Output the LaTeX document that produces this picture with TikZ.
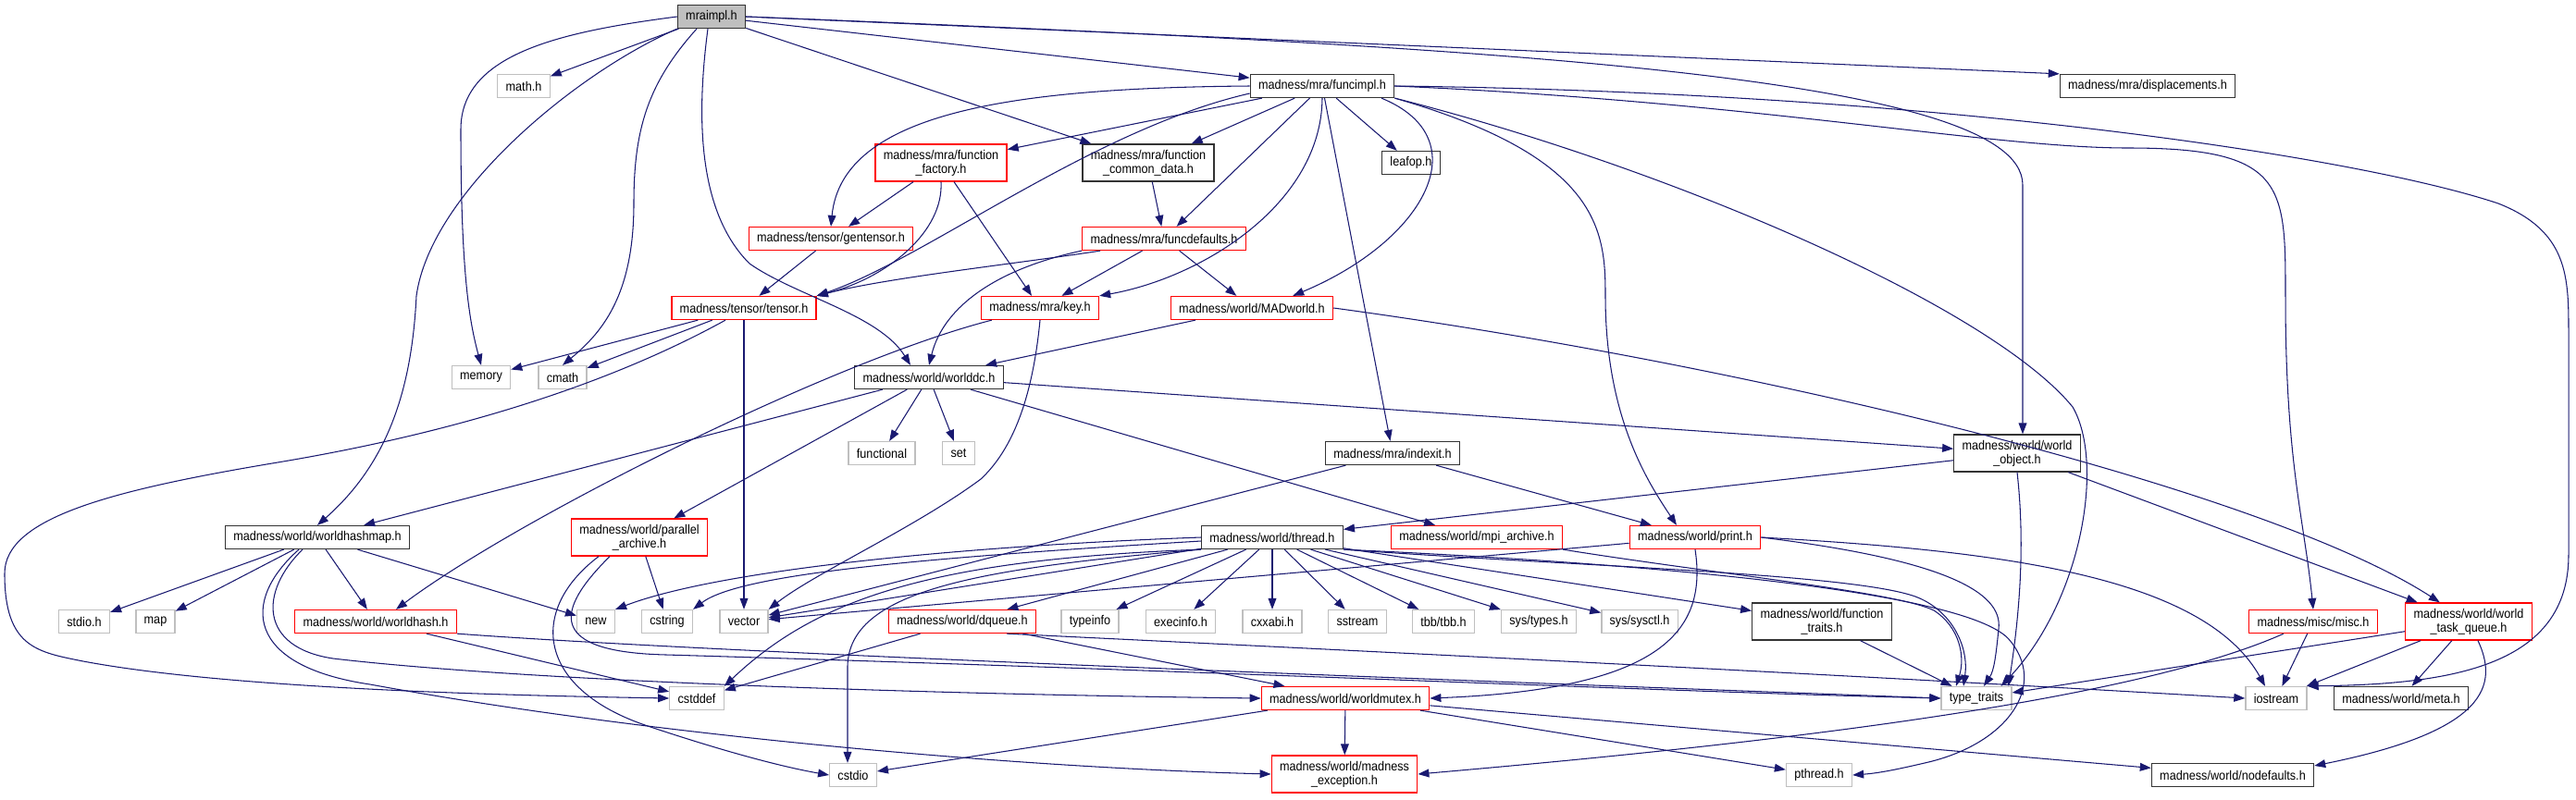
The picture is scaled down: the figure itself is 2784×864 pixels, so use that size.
\documentclass[tikz,border=0pt]{standalone}
\usepackage{fontspec}
\setmainfont{Liberation Sans}[FakeStretch=0.9]
\usetikzlibrary{arrows.meta}
\definecolor{edgeblue}{HTML}{191970}
\definecolor{rootgray}{HTML}{BFBFBF}
\definecolor{framedark}{HTML}{333333}
\definecolor{framelight}{HTML}{BFBFBF}
\definecolor{framered}{HTML}{FF0000}
\tikzset{
  file/.style={rectangle, inner xsep=0.22cm, inner ysep=0pt, minimum height=0.625cm, font=\fontsize{10}{10.7}\selectfont, text=black, align=center},
  rootfile/.style={file, fill=rootgray, draw=framedark, line width=0.9pt},
  docfile/.style={file, draw=framedark, line width=0.9pt},
  trunkfile/.style={file, draw=framered, line width=0.9pt},
  sysfile/.style={file, draw=framelight, line width=0.9pt},
  twoline/.style={minimum height=1cm},
  incl/.style={draw=edgeblue, line width=0.75pt, -{Triangle[length=0.3cm, width=0.22cm]}},
}
\begin{document}
\begin{tikzpicture}[x=0.025cm, y=-0.025cm]
\useasboundingbox (0,0) rectangle (2784,864);
\node[rootfile] (mraimpl) at (769,18) {mraimpl.h};
\node[sysfile] (mathh) at (566,93) {math.h};
\node[docfile] (funcimpl) at (1429,93) {madness/mra/funcimpl.h};
\node[docfile] (displ) at (2321,93) {madness/mra/displacements.h};
\node[trunkfile, twoline] (factory) at (1017,176) {madness/mra/function\\\_factory.h};
\node[docfile, twoline] (commondata) at (1241,176) {madness/mra/function\\\_common\_data.h};
\node[docfile] (leafop) at (1525,176) {leafop.h};
\node[trunkfile] (gentensor) at (898,258) {madness/tensor/gentensor.h};
\node[trunkfile] (funcdefaults) at (1258,258) {madness/mra/funcdefaults.h};
\node[trunkfile] (tensor) at (804,333) {madness/tensor/tensor.h};
\node[trunkfile] (key) at (1124,333) {madness/mra/key.h};
\node[trunkfile] (madworld) at (1353,333) {madness/world/MADworld.h};
\node[sysfile] (memory) at (520,408) {memory};
\node[sysfile] (cmath) at (608,408) {cmath};
\node[docfile] (worlddc) at (1004,408) {madness/world/worlddc.h};
\node[sysfile] (functional) at (953,490) {functional};
\node[sysfile] (set) at (1036,490) {set};
\node[docfile] (indexit) at (1505,490) {madness/mra/indexit.h};
\node[docfile, twoline] (worldobject) at (2180,490) {madness/world/world\\\_object.h};
\node[docfile] (hashmap) at (343,581) {madness/world/worldhashmap.h};
\node[trunkfile, twoline] (parchive) at (691,581) {madness/world/parallel\\\_archive.h};
\node[docfile] (thread) at (1375,581) {madness/world/thread.h};
\node[trunkfile] (mpiarchive) at (1596,581) {madness/world/mpi\_archive.h};
\node[trunkfile] (print) at (1832,581) {madness/world/print.h};
\node[sysfile] (stdio) at (91,672) {stdio.h};
\node[sysfile] (map) at (168,672) {map};
\node[trunkfile] (worldhash) at (406,672) {madness/world/worldhash.h};
\node[sysfile] (new) at (644,672) {new};
\node[sysfile] (cstring) at (721,672) {cstring};
\node[sysfile] (vector) at (804,672) {vector};
\node[trunkfile] (dqueue) at (1040,672) {madness/world/dqueue.h};
\node[sysfile] (typeinfo) at (1178,672) {typeinfo};
\node[sysfile] (execinfo) at (1276,672) {execinfo.h};
\node[sysfile] (cxxabi) at (1375,672) {cxxabi.h};
\node[sysfile] (sstream) at (1467,672) {sstream};
\node[sysfile] (tbb) at (1560,672) {tbb/tbb.h};
\node[sysfile] (systypes) at (1663,672) {sys/types.h};
\node[sysfile] (syssysctl) at (1772,672) {sys/sysctl.h};
\node[docfile, twoline] (functraits) at (1969,672) {madness/world/function\\\_traits.h};
\node[trunkfile] (misc) at (2500,672) {madness/misc/misc.h};
\node[trunkfile, twoline] (taskqueue) at (2668,672) {madness/world/world\\\_task\_queue.h};
\node[sysfile] (cstddef) at (753,755) {cstddef};
\node[trunkfile] (worldmutex) at (1454,755) {madness/world/worldmutex.h};
\node[sysfile] (typetraits) at (2136,755) {type\_traits};
\node[sysfile] (iostream) at (2460,755) {iostream};
\node[docfile] (meta) at (2595,755) {madness/world/meta.h};
\node[sysfile] (cstdio) at (922,838) {cstdio};
\node[trunkfile, twoline] (mexception) at (1453,837) {madness/world/madness\\\_exception.h};
\node[sysfile] (pthread) at (1966,838) {pthread.h};
\node[docfile] (nodefaults) at (2413,838) {madness/world/nodefaults.h};
\draw[incl] (mraimpl) -- (mathh);
\draw[incl] (mraimpl.west) .. controls (600,35) and (498,60) .. (498,140) .. controls (498,300) and (508,350) .. (memory.north);
\draw[incl] (mraimpl.south west) .. controls (620,80) and (465,210) .. (450,320) .. controls (445,420) and (420,500) .. (hashmap.north);
\draw[incl] ([xshift=-0.4cm]mraimpl.south) .. controls (700,90) and (685,140) .. (685,220) .. controls (685,320) and (650,360) .. (cmath.north);
\draw[incl] ([xshift=-0.1cm]mraimpl.south) .. controls (752,130) and (755,230) .. (810,285) .. controls (860,320) and (950,340) .. ([xshift=-0.5cm]worlddc.north);
\draw[incl] (mraimpl) -- (commondata);
\draw[incl] (mraimpl) -- (funcimpl);
\draw[incl] (mraimpl.east) -- (displ.north west);
\draw[incl] (mraimpl.east) .. controls (1600,50) and (2186,80) .. (2186,200) -- ([xshift=0.15cm]worldobject.north);
\draw[incl] (funcimpl) -- (factory);
\draw[incl] (funcimpl) -- (commondata);
\draw[incl] (funcimpl) -- (leafop);
\draw[incl] (funcimpl) -- (funcdefaults);
\draw[incl] (funcimpl) -- (indexit);
\draw[incl] (funcimpl.west) .. controls (1100,95) and (910,120) .. (gentensor.north);
\draw[incl] ([yshift=-0.2cm]funcimpl.west) .. controls (1180,140) and (1000,280) .. (tensor.north east);
\draw[incl] (funcimpl.south) .. controls (1428,220) and (1300,300) .. (key.north east);
\draw[incl] ([xshift=1.6cm]funcimpl.south) .. controls (1600,150) and (1540,260) .. ([xshift=-1.1cm]madworld.north east);
\draw[incl] (funcimpl.south east) .. controls (1730,170) and (1735,250) .. (1735,320) .. controls (1735,450) and (1780,520) .. ([xshift=-0.5cm]print.north);
\draw[incl] (funcimpl.south east) .. controls (1800,180) and (2150,330) .. (2240,440) .. controls (2275,500) and (2250,650) .. ([xshift=-0.3cm]typetraits.north east);
\draw[incl] (funcimpl.east) .. controls (1900,110) and (2150,160) .. (2300,160) .. controls (2470,160) and (2470,200) .. (2470,320) .. controls (2470,500) and (2490,560) .. (misc.north);
\draw[incl] (funcimpl.east) .. controls (2100,100) and (2550,170) .. (2700,220) .. controls (2776,250) and (2776,300) .. (2776,360) -- (2776,600) .. controls (2776,720) and (2650,740) .. (iostream.north east);
\draw[incl] (factory) -- (gentensor);
\draw[incl] (factory.south) .. controls (1020,250) and (960,300) .. (tensor.north east);
\draw[incl] (factory) -- (key);
\draw[incl] (commondata) -- (funcdefaults);
\draw[incl] (gentensor) -- (tensor);
\draw[incl] ([xshift=0.5cm]funcdefaults.south west) .. controls (1100,285) and (960,300) .. (tensor.north east);
\draw[incl] (funcdefaults.south west) .. controls (1080,290) and (1020,330) .. (worlddc.north);
\draw[incl] (funcdefaults) -- (key);
\draw[incl] (funcdefaults) -- (madworld);
\draw[incl] (tensor) -- (memory);
\draw[incl] (tensor) -- (cmath);
\draw[incl] (tensor) -- (vector);
\draw[incl] ([xshift=-0.5cm]tensor.south) .. controls (650,420) and (480,470) .. (300,500) .. controls (120,530) and (5,560) .. (5,620) .. controls (5,700) and (40,705) .. (90,715) .. controls (250,745) and (550,752) .. (cstddef.west);
\draw[incl] ([xshift=0.3cm]key.south west) .. controls (900,390) and (560,560) .. ([xshift=0.55cm]worldhash.north);
\draw[incl] (key.south) .. controls (1115,440) and (1090,490) .. (1060,518) .. controls (990,570) and (880,620) .. (vector.north east);
\draw[incl] (madworld) -- (worlddc);
\draw[incl] (madworld.east) .. controls (1900,395) and (2450,530) .. ([xshift=-0.78cm]taskqueue.north);
\draw[incl] (worlddc) -- (functional);
\draw[incl] (worlddc) -- (set);
\draw[incl] (worlddc) -- (hashmap);
\draw[incl] (worlddc) -- (parchive);
\draw[incl] (worlddc) -- (mpiarchive);
\draw[incl] (worlddc) -- (worldobject);
\draw[incl] (indexit) -- (vector);
\draw[incl] (indexit) -- (print);
\draw[incl] (worldobject) -- (thread);
\draw[incl] (worldobject.south) .. controls (2190,600) and (2180,680) .. ([xshift=-0.1cm]typetraits.north east);
\draw[incl] (worldobject) -- (taskqueue);
\draw[incl] (hashmap) -- (stdio);
\draw[incl] (hashmap) -- (map);
\draw[incl] (hashmap) -- (worldhash);
\draw[incl] (hashmap) -- (new);
\draw[incl] ([xshift=-0.4cm]hashmap.south) .. controls (280,640) and (280,700) .. (360,712) .. controls (600,740) and (1100,752) .. (worldmutex.west);
\draw[incl] ([xshift=-0.5cm]hashmap.south) .. controls (260,650) and (265,720) .. (400,740) .. controls (700,795) and (1100,830) .. (mexception.west);
\draw[incl] (parchive) -- (cstring);
\draw[incl] ([xshift=-1.1cm]parchive.south) .. controls (570,660) and (580,745) .. (700,785) .. controls (790,815) and (850,830) .. (cstdio.west);
\draw[incl] ([xshift=-0.8cm]parchive.south) .. controls (600,660) and (590,705) .. (720,708) .. controls (1300,725) and (1800,748) .. (typetraits.west);
\draw[incl] (thread.west) .. controls (1050,590) and (780,615) .. (new.north east);
\draw[incl] ([yshift=-0.1cm]thread.west) .. controls (1000,603) and (800,620) .. (cstring.north east);
\draw[incl] (thread) -- (vector);
\draw[incl] (thread.south west) .. controls (1000,605) and (880,650) .. (cstddef.north east);
\draw[incl] (thread.south west) .. controls (1050,615) and (918,640) .. (916,720) -- ([xshift=-0.15cm]cstdio.north);
\draw[incl] (thread) -- (dqueue);
\draw[incl] (thread) -- (typeinfo);
\draw[incl] (thread) -- (execinfo);
\draw[incl] (thread) -- (cxxabi);
\draw[incl] (thread) -- (sstream);
\draw[incl] (thread) -- (tbb);
\draw[incl] (thread) -- (systypes);
\draw[incl] (thread) -- (syssysctl);
\draw[incl] (thread) -- (functraits);
\draw[incl] (thread.south east) .. controls (1700,612) and (2000,620) .. (2070,645) .. controls (2110,660) and (2128,700) .. ([xshift=-0.35cm]typetraits.north);
\draw[incl] (thread.south east) .. controls (1800,610) and (2120,640) .. (2170,690) .. controls (2215,740) and (2170,805) .. (2080,825) .. controls (2050,832) and (2030,836) .. (pthread.east);
\draw[incl] (mpiarchive.south east) .. controls (1850,620) and (2050,640) .. (2090,660) .. controls (2118,678) and (2124,710) .. ([xshift=-0.55cm]typetraits.north);
\draw[incl] (print) -- (vector);
\draw[incl] (print.south) .. controls (1845,680) and (1800,745) .. (worldmutex.east);
\draw[incl] (print.east) .. controls (2100,605) and (2165,640) .. (2160,680) .. controls (2157,710) and (2155,725) .. ([xshift=0.2cm]typetraits.north);
\draw[incl] (print.east) .. controls (2150,595) and (2380,620) .. ([xshift=-0.3cm]iostream.north);
\draw[incl] (dqueue) -- (cstddef);
\draw[incl] (dqueue) -- (worldmutex);
\draw[incl] ([xshift=1.2cm]dqueue.south) .. controls (1500,705) and (2000,730) .. (iostream.west);
\draw[incl] (worldhash) -- (cstddef);
\draw[incl] (worldhash.south east) .. controls (800,708) and (1700,740) .. (typetraits.west);
\draw[incl] (worldmutex) -- (mexception);
\draw[incl] (worldmutex) -- (cstdio);
\draw[incl] (worldmutex) -- (pthread);
\draw[incl] (worldmutex) -- (nodefaults);
\draw[incl] (misc) -- (iostream);
\draw[incl] ([xshift=-0.8cm]misc.south) .. controls (2300,760) and (1900,805) .. (mexception.east);
\draw[incl] (taskqueue) -- (typetraits);
\draw[incl] (taskqueue) -- (iostream);
\draw[incl] (taskqueue) -- (meta);
\draw[incl] ([xshift=0.25cm]taskqueue.south) .. controls (2700,740) and (2690,790) .. ([yshift=0.25cm]nodefaults.east);
\draw[incl] (functraits) -- (typetraits);
\end{tikzpicture}
\end{document}
